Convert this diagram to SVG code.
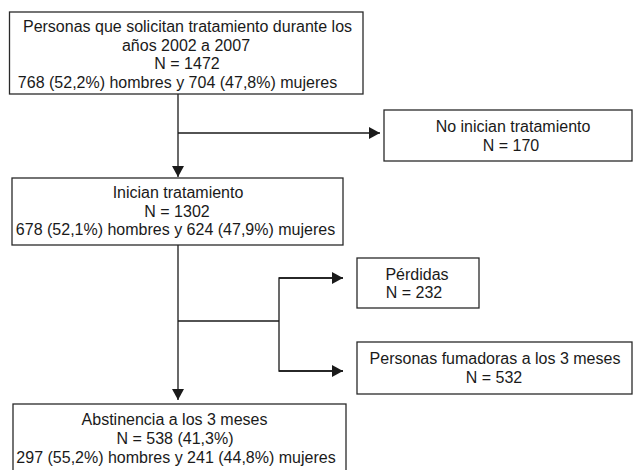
<svg xmlns="http://www.w3.org/2000/svg" width="636" height="470" viewBox="0 0 636 470">
  <style>
    .box { fill: #ffffff; stroke: #2a2a2a; stroke-width: 1.3; }
    .t { font-family: "Liberation Sans", Arial, sans-serif; font-size: 16px; fill: #1a1a1a; text-anchor: middle; }
    .c { fill: none; stroke: #1a1a1a; stroke-width: 1.3; }
  </style>
  <defs>
    <marker id="arr" viewBox="0 0 11 12" refX="11" refY="6" markerWidth="11" markerHeight="12" markerUnits="userSpaceOnUse" orient="auto">
      <path d="M0,0 L11,6 L0,12 z" fill="#1a1a1a"/>
    </marker>
  </defs>
  <rect width="636" height="470" fill="#ffffff"/>

  <g id="connectors">
    <line class="c" x1="178" y1="94" x2="178" y2="177" marker-end="url(#arr)"/>
    <line class="c" x1="178" y1="133" x2="380" y2="133" marker-end="url(#arr)"/>
    <line class="c" x1="178" y1="245" x2="178" y2="400" marker-end="url(#arr)"/>
    <polyline class="c" points="178,321 279,321"/>
    <polyline class="c" points="343,278 279,278 279,371 343,371"/>
    <line class="c" x1="279" y1="278" x2="343" y2="278" marker-end="url(#arr)"/>
    <line class="c" x1="279" y1="371" x2="343" y2="371" marker-end="url(#arr)"/>
  </g>

  <g id="node-solicitan">
    <rect class="box" x="9.5" y="12" width="353.5" height="82"/>
    <text class="t" x="187.5" y="32">Personas que solicitan tratamiento durante los</text>
    <text class="t" x="186" y="50.5">años 2002 a 2007</text>
    <text class="t" x="187" y="69">N = 1472</text>
    <text class="t" x="177.5" y="87.5">768 (52,2%) hombres y 704 (47,8%) mujeres</text>
  </g>

  <g id="node-no-inician">
    <rect class="box" x="384" y="110" width="248" height="51"/>
    <text class="t" x="513" y="132">No inician tratamiento</text>
    <text class="t" x="511" y="150.5">N = 170</text>
  </g>

  <g id="node-inician">
    <rect class="box" x="12" y="178" width="331" height="67"/>
    <text class="t" x="178" y="198">Inician tratamiento</text>
    <text class="t" x="177" y="216.5">N = 1302</text>
    <text class="t" x="175.5" y="235">678 (52,1%) hombres y 624 (47,9%) mujeres</text>
  </g>

  <g id="node-perdidas">
    <rect class="box" x="357" y="258" width="122" height="50"/>
    <text class="t" x="417" y="279.5">Pérdidas</text>
    <text class="t" x="414" y="298">N = 232</text>
  </g>

  <g id="node-fumadoras">
    <rect class="box" x="357" y="342" width="275" height="52"/>
    <text class="t" x="495" y="364">Personas fumadoras a los 3 meses</text>
    <text class="t" x="494" y="383">N = 532</text>
  </g>

  <g id="node-abstinencia">
    <rect class="box" x="13" y="404" width="333" height="70"/>
    <text class="t" x="174.5" y="425">Abstinencia a los 3 meses</text>
    <text class="t" x="175" y="444">N = 538 (41,3%)</text>
    <text class="t" x="176" y="463">297 (55,2%) hombres y 241 (44,8%) mujeres</text>
  </g>
</svg>
